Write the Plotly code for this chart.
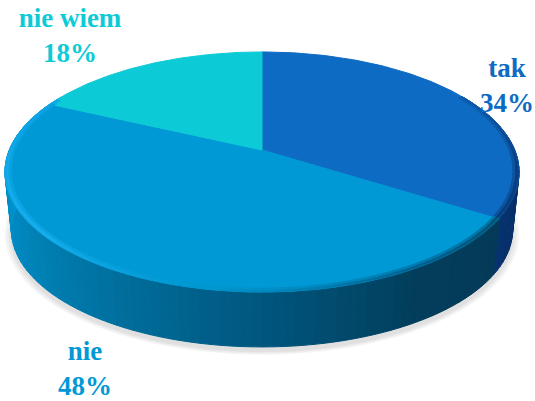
import numpy as np
import plotly.graph_objects as go

categories = ["tak", "nie", "nie wiem"]
values = [34, 48, 18]
slice_colors = ["#0e6bc3", "#0099d6", "#0dcbd6"]
label_x = [507, 85, 70]
label_y = [88, 371, 38]

W, H = 535, 401
CX, CY = 262, 150
K, A, S = 0.183, 116, 252.7
DROP, BOTTOM_SCALE = 58.5, 0.975

wall_stops_deg = [0, 90, 122, 123, 150, 180, 215, 240, 270, 300, 360]
wall_stops_rgb = [(10, 45, 100), (10, 45, 100), (6, 50, 110), (4, 58, 88), (2, 62, 92), (0, 86, 126),
                  (0, 116, 164), (0, 134, 188), (0, 146, 204), (0, 146, 204), (0, 146, 204)]
rim_stops_deg = [0, 60, 100, 122, 123, 150, 190, 230, 300, 360]
rim_stops_rgb = [(14, 100, 185), (12, 90, 170), (12, 60, 125), (8, 60, 120), (2, 80, 115),
                 (0, 95, 140), (0, 150, 205), (24, 176, 240), (14, 165, 230), (14, 100, 185)]


def project(theta, r=1.0, drop=0.0, scale=1.0):
    t = np.radians(theta)
    u, v = r * np.sin(t), r * np.cos(t)
    w = 1 + K * v
    return CX + scale * S * u / w, CY + drop - scale * A * v / w


def interp_rgb(theta, stops, rgbs):
    return np.array([np.interp(theta % 360, stops, [c[i] for c in rgbs]) for i in range(3)])


def css(rgb):
    return "rgb(%d,%d,%d)" % tuple(int(round(c)) for c in rgb)


def poly(xs, ys, color):
    return go.Scatter(x=xs, y=ys, mode="lines", fill="toself", fillcolor=color,
                      line=dict(color=color, width=1), hoverinfo="skip", showlegend=False)


fig = go.Figure()

# soft ground shadow
ring = np.linspace(0, 360, 181)
for i, grow in enumerate([1.024, 1.016, 1.009, 1.003]):
    sx, sy = project(ring, 1.0, DROP + 4, BOTTOM_SCALE * grow)
    shade = 245 - i * 7
    fig.add_trace(poly(sx, sy, css((shade, shade, shade))))

# wall, in short pieces that get their shade from the slice geometry
step = 2.0
angles = np.arange(60, 300 + step, step)
for a0 in angles[:-1]:
    a1 = a0 + step
    base = interp_rgb(a0 + step / 2, wall_stops_deg, wall_stops_rgb)
    x0, y0 = project(a0)
    x1, y1 = project(a1)
    x2, y2 = project(a1, 1.0, DROP, BOTTOM_SCALE)
    x3, y3 = project(a0, 1.0, DROP, BOTTOM_SCALE)
    fig.add_trace(poly([x0, x1, x2, x3, x0], [y0, y1, y2, y3, y0], css(base)))

# slices
edges = np.concatenate([[0], np.cumsum(values)]) / np.sum(values) * 360
for i in range(len(values)):
    th = np.linspace(edges[i], edges[i + 1], 120)
    px, py = project(th)
    fig.add_trace(poly(np.r_[CX, px, CX], np.r_[CY, py, CY], slice_colors[i]))

# bevel round the rim
bevel = [(1.0, 0.8), (0.993, 1.0), (0.985, 0.5), (0.977, 0.18)]
for a0 in np.arange(60, 298, step):
    a1 = a0 + step
    mid = a0 + step / 2
    idx = min(np.searchsorted(edges, mid, side="right") - 1, len(values) - 1)
    face = np.array([int(slice_colors[idx][j:j + 2], 16) for j in (1, 3, 5)], dtype=float)
    rim = interp_rgb(mid, rim_stops_deg, rim_stops_rgb)
    for (r0, w0), (r1, _) in zip(bevel[:-1], bevel[1:]):
        col = face + (rim - face) * w0
        x0, y0 = project(a0, r0)
        x1, y1 = project(a1, r0)
        x2, y2 = project(a1, r1)
        x3, y3 = project(a0, r1)
        fig.add_trace(poly([x0, x1, x2, x3, x0], [y0, y1, y2, y3, y0], css(col)))

# labels
for i, cat in enumerate(categories):
    fig.add_trace(go.Scatter(
        x=[label_x[i]], y=[label_y[i]], mode="text",
        text=[f"{cat}<br>{values[i]}%"], textposition="middle center",
        textfont=dict(family="Liberation Serif", size=27, color=slice_colors[i], weight="bold"),
        hoverinfo="skip", showlegend=False))

fig.update_layout(
    width=W, height=H, margin=dict(l=0, r=0, t=0, b=0),
    paper_bgcolor="white", plot_bgcolor="white", showlegend=False,
    xaxis=dict(range=[0, W], visible=False, fixedrange=True),
    yaxis=dict(range=[H, 0], visible=False, fixedrange=True),
)
fig.write_html("out.html", config={"displayModeBar": False},
               post_script="document.body.style.margin='0';document.body.style.overflow='hidden';")
